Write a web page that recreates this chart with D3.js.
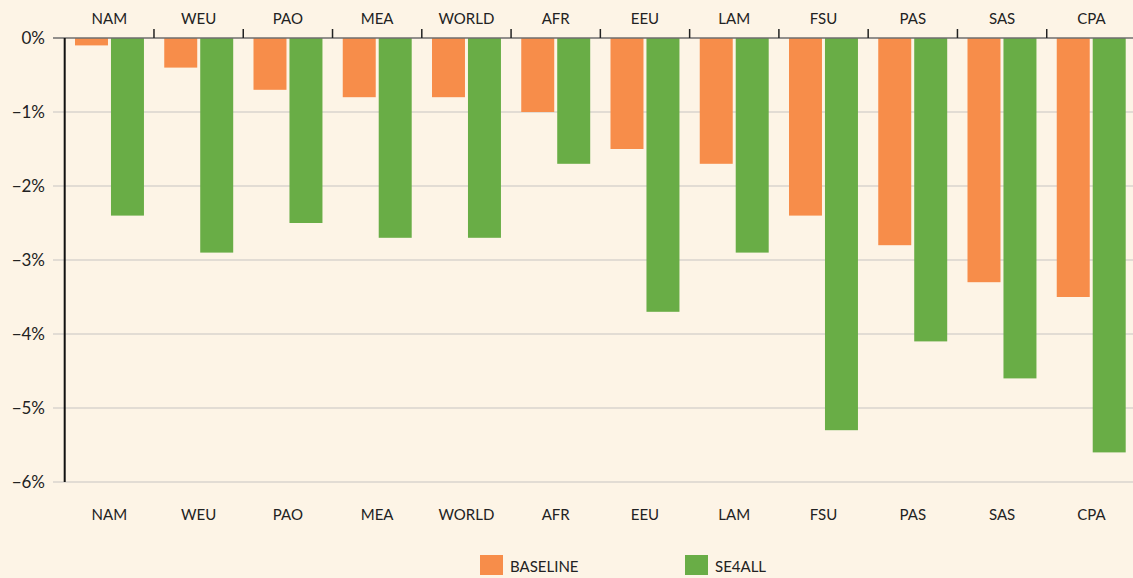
<!DOCTYPE html>
<html>
<head>
<meta charset="utf-8">
<script src="https://cdn.jsdelivr.net/npm/d3@7/dist/d3.min.js"></script>
<style>
  html, body { margin: 0; padding: 0; background: #fdf4e6; overflow: hidden; }
  svg { display: block; font-family: Lato, "Noto Sans", sans-serif; }
</style>
</head>
<body>
<svg id="chart" width="1133" height="578"></svg>
<script>
// Regions and change values (%) per scenario
const regions = ["NAM", "WEU", "PAO", "MEA", "WORLD", "AFR", "EEU", "LAM", "FSU", "PAS", "SAS", "CPA"];
const baseline = [-0.1, -0.4, -0.7, -0.8, -0.8, -1.0, -1.5, -1.7, -2.4, -2.8, -3.3, -3.5];
const se4all = [-2.4, -2.9, -2.5, -2.7, -2.7, -1.7, -3.7, -2.9, -5.3, -4.1, -4.6, -5.6];
const seriesNames = ["BASELINE", "SE4ALL"];
const yTicks = [0, -1, -2, -3, -4, -5, -6];

const colors = { BASELINE: "#f78d4a", SE4ALL: "#69ad46" };

const svg = d3.select("#chart");
// the plot runs slightly past the right edge of the canvas
const plotLeft = 64.7, plotRight = 1136, plotTop = 38, plotBottom = 482;
const step = (plotRight - plotLeft) / regions.length;

const x = d3.scaleBand().domain(regions).range([plotLeft, plotRight])
  .paddingInner(20.3 / step).paddingOuter(10.3 / step);
const xOuter = d3.scaleBand().domain(regions).range([plotLeft, plotRight]);
const xSub = d3.scaleBand().domain(seriesNames).range([0, x.bandwidth()]).paddingInner(3 / 36);
const y = d3.scaleLinear().domain([0, -6]).range([plotTop, plotBottom]);

// horizontal gridlines
svg.append("g")
  .selectAll("line")
  .data(yTicks.filter(d => d !== 0))
  .join("line")
  .attr("x1", 53).attr("x2", plotRight)
  .attr("y1", d => y(d)).attr("y2", d => y(d))
  .attr("stroke", "#d8d4ce").attr("stroke-width", 1.5);

// y tick labels
svg.append("g")
  .selectAll("text")
  .data(yTicks)
  .join("text")
  .attr("x", 45)
  .attr("y", d => y(d))
  .attr("dy", "0.35em")
  .attr("text-anchor", "end")
  .attr("font-size", 17)
  .attr("fill", "#222")
  .text(d => (d < 0 ? "\u2212" : "") + Math.abs(d) + "%");

// bars
const rows = regions.map((r, i) => ({ region: r, values: [
  { key: "BASELINE", value: baseline[i] },
  { key: "SE4ALL", value: se4all[i] }
] }));

svg.append("g")
  .selectAll("g")
  .data(rows)
  .join("g")
  .attr("transform", d => `translate(${x(d.region)},0)`)
  .selectAll("rect")
  .data(d => d.values)
  .join("rect")
  .attr("x", d => xSub(d.key))
  .attr("width", xSub.bandwidth())
  .attr("y", y(0))
  .attr("height", d => y(d.value) - y(0))
  .attr("fill", d => colors[d.key]);

// zero line along the top
svg.append("line")
  .attr("x1", 53).attr("x2", plotRight)
  .attr("y1", y(0)).attr("y2", y(0))
  .attr("stroke", "#6e6e6e").attr("stroke-width", 1.5);

// category boundary ticks on the top axis
svg.append("g")
  .selectAll("line")
  .data(regions.slice(1).map(r => xOuter(r)).concat([plotRight]))
  .join("line")
  .attr("x1", d => d).attr("x2", d => d)
  .attr("y1", y(0) - 9).attr("y2", y(0))
  .attr("stroke", "#222").attr("stroke-width", 1.5);

// left axis line
svg.append("line")
  .attr("x1", plotLeft).attr("x2", plotLeft)
  .attr("y1", y(0)).attr("y2", y(-6))
  .attr("stroke", "#111").attr("stroke-width", 2);

// category labels above and below
[19, 515].forEach(ty => {
  svg.append("g")
    .selectAll("text")
    .data(regions)
    .join("text")
    .attr("x", d => xOuter(d) + xOuter.bandwidth() / 2)
    .attr("y", ty)
    .attr("dy", "0.35em")
    .attr("text-anchor", "middle")
    .attr("font-size", 15)
    .attr("fill", "#222")
    .text(d => d);
});

// legend
const legendX = [480, 685];
const legend = svg.append("g")
  .selectAll("g")
  .data(seriesNames)
  .join("g")
  .attr("transform", (d, i) => `translate(${legendX[i]},555)`);
legend.append("rect").attr("width", 23).attr("height", 20).attr("fill", d => colors[d]);
legend.append("text")
  .attr("x", 30).attr("y", 12)
  .attr("dy", "0.35em")
  .attr("font-size", 15)
  .attr("fill", "#222")
  .text(d => d);
</script>
</body>
</html>
